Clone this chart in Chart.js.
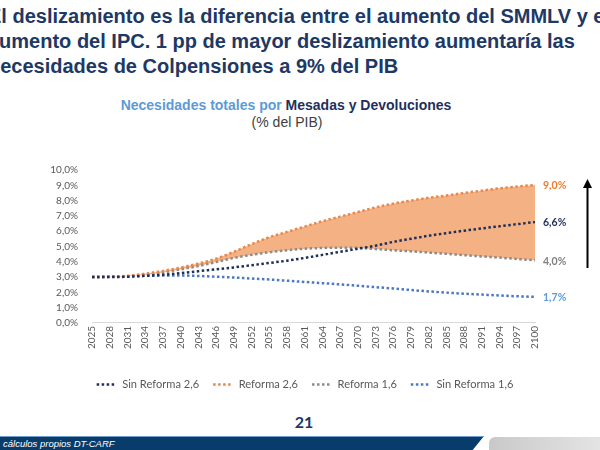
<!DOCTYPE html>
<html lang="es">
<head>
<meta charset="UTF-8">
<title>Necesidades totales por Mesadas y Devoluciones</title>
<script src="https://cdn.jsdelivr.net/npm/chart.js@4.4.0/dist/chart.umd.min.js"></script>
<style>
  body { margin: 0; width: 600px; height: 450px; overflow: hidden; position: relative; background: #fff;
         font-family: "Liberation Sans", Arial, sans-serif; }
  #head { position: absolute; left: -12px; top: 4px; font-weight: bold; font-size: 20px; line-height: 25px;
          color: #203864; white-space: nowrap; }
  #ttl { position: absolute; left: 0; width: 572px; top: 96px; text-align: center; font-size: 14px;
         font-weight: bold; line-height: 18px; }
  #ttl .a { color: #5B9BD5; }
  #ttl .b { color: #1F2F5C; }
  #sub { position: absolute; left: 0; width: 574px; top: 114px; text-align: center; font-size: 14px; color: #404040; }
  #box { position: absolute; left: 0; top: 150px; width: 600px; height: 251px; }
  #arrow { position: absolute; left: 580px; top: 178px; }
  #page { position: absolute; left: 284px; width: 40px; top: 412px; text-align: center; font-family: Lato, sans-serif;
          font-weight: bold; font-size: 16px; color: #203864; }
  #bar { position: absolute; left: 0; top: 436px; width: 484px; height: 14px; background: #073C6B;
         clip-path: polygon(0 0, 100% 0, 97.5% 100%, 0 100%); border-top: 1px solid #6f9cc8; }
  #bar span { position: absolute; left: 3px; top: 1px; font-size: 9.5px; font-style: italic; color: #fff; }
  #gray { position: absolute; left: 489px; top: 437px; width: 120px; height: 16px; border-top-left-radius: 6px;
          background: linear-gradient(90deg, #c9c9c9, #e6e6e6); }
</style>
</head>
<body>
<div id="head">El deslizamiento es la diferencia entre el aumento del SMMLV y el<br>aumento del IPC. 1 pp de mayor deslizamiento aumentaría las<br>necesidades de Colpensiones a 9% del PIB</div>
<div id="ttl"><span class="a">Necesidades totales por </span><span class="b">Mesadas y Devoluciones</span></div>
<div id="sub">(% del PIB)</div>
<div id="box"><canvas id="myChart"></canvas></div>
<svg id="arrow" width="16" height="94">
  <line x1="7.5" y1="6" x2="7.5" y2="90" stroke="#000" stroke-width="2"/>
  <polygon points="7.5,1 3,10 12,10" fill="#000"/>
</svg>
<div id="page">21</div>
<div id="bar"><span>cálculos propios DT-CARF</span></div>
<div id="gray"></div>

<script>
  const years = ["2025", "2028", "2031", "2034", "2037", "2040", "2043", "2046", "2049", "2052", "2055", "2058", "2061",
                 "2064", "2067", "2070", "2073", "2076", "2079", "2082", "2085", "2088", "2091", "2094", "2097", "2100"];
  const sinReforma26 = [3.0, 3.0, 3.02, 3.08, 3.15, 3.25, 3.38, 3.5, 3.63, 3.77, 3.92, 4.07, 4.25,
                        4.45, 4.65, 4.85, 5.05, 5.3, 5.5, 5.7, 5.87, 6.03, 6.18, 6.32, 6.46, 6.6];
  const reforma26 = [3.0, 3.02, 3.08, 3.22, 3.4, 3.62, 3.88, 4.2, 4.65, 5.15, 5.6, 5.95, 6.3,
                     6.65, 6.95, 7.25, 7.55, 7.8, 8.0, 8.18, 8.33, 8.5, 8.65, 8.8, 8.92, 9.02];
  const reforma16 = [3.0, 3.01, 3.05, 3.15, 3.3, 3.5, 3.72, 3.98, 4.25, 4.45, 4.62, 4.75, 4.85,
                     4.9, 4.92, 4.9, 4.83, 4.75, 4.68, 4.6, 4.52, 4.43, 4.35, 4.27, 4.18, 4.1];
  const sinReforma16 = [3.0, 3.02, 3.05, 3.08, 3.1, 3.1, 3.07, 3.02, 2.97, 2.9, 2.84, 2.76, 2.68,
                        2.6, 2.52, 2.43, 2.34, 2.25, 2.15, 2.06, 1.98, 1.91, 1.85, 1.79, 1.74, 1.7];
  const seriesNames = ["Sin Reforma 2,6", "Reforma 2,6", "Reforma 1,6", "Sin Reforma 1,6"];
  const endLabels = ["6,6%", "9,0%", "4,0%", "1,7%"];
  const lineColors = ["#1F2F5C", "#E8884A", "#8E8A88", "#4A78C2"];
  const labelColors = ["#1F2F5C", "#ED7D31", "#808080", "#5B9BD5"];

  // labels at the right end of each line
  const endLabelPlugin = {
    id: "endLabels",
    afterDatasetsDraw(chart) {
      const ctx = chart.ctx;
      ctx.save();
      ctx.font = "bold 10.5px Lato";
      ctx.textBaseline = "middle";
      chart.data.datasets.forEach((ds, i) => {
        const pts = chart.getDatasetMeta(i).data;
        const p = pts[pts.length - 1];
        ctx.fillStyle = labelColors[i];
        ctx.fillText(endLabels[i], p.x + 8, p.y + 1);
      });
      ctx.restore();
    }
  };

  const allData = [sinReforma26, reforma26, reforma16, sinReforma16];
  const datasets = allData.map((d, i) => ({
    label: seriesNames[i],
    data: d,
    borderColor: lineColors[i],
    borderWidth: 2.5,
    borderDash: [2.5, 2.5],
    pointRadius: 0,
    cubicInterpolationMode: "monotone",
    fill: i === 1 ? { target: 2 } : false,
    backgroundColor: i === 1 ? "rgb(244,177,131)" : lineColors[i]
  }));

  const ctx = document.getElementById("myChart").getContext("2d");
  const myChart = new Chart(ctx, {
    type: "line",
    data: { labels: years, datasets: datasets },
    plugins: [endLabelPlugin],
    options: {
      responsive: true,
      maintainAspectRatio: false,
      animation: false,
      layout: { padding: { left: 10, right: 0, top: 13, bottom: 1 } },
      scales: {
        x: {
          afterFit(scale) { scale.height = 42; },
          grid: { display: false, drawTicks: false },
          border: { display: true, color: "#d9d9d9" },
          ticks: { autoSkip: false, maxRotation: 90, minRotation: 90, padding: 3,
                   color: "#595959", font: { family: "Lato", size: 10 } }
        },
        y: {
          min: 0, max: 10,
          afterFit(scale) { scale.width = 82; },
          grid: { display: false, drawTicks: false },
          border: { display: false },
          ticks: { stepSize: 1, padding: 14, color: "#595959", font: { family: "Lato", size: 10 },
                   callback: v => v.toFixed(1).replace(".", ",") + "%" }
        },
        // empty right axis: keeps room for the end labels
        yRight: {
          position: "right",
          min: 0, max: 10,
          afterFit(scale) { scale.width = 65; },
          grid: { display: false, drawTicks: false },
          border: { display: false },
          ticks: { display: false }
        }
      },
      plugins: {
        filler: { drawTime: "beforeDatasetsDraw" },
        tooltip: { enabled: false },
        legend: {
          position: "bottom",
          labels: {
            usePointStyle: true,
            pointStyle: "line",
            pointStyleWidth: 20,
            padding: 14,
            color: "#595959",
            font: { family: "Lato", size: 11.1 },
            generateLabels: chart => chart.data.datasets.map((ds, i) => ({
              text: ds.label,
              fillStyle: lineColors[i],
              strokeStyle: lineColors[i],
              lineWidth: 2.5,
              lineDash: [2.5, 2.5],
              pointStyle: "line",
              fontColor: "#595959",
              datasetIndex: i
            }))
          }
        }
      }
    }
  });
</script>
</body>
</html>
